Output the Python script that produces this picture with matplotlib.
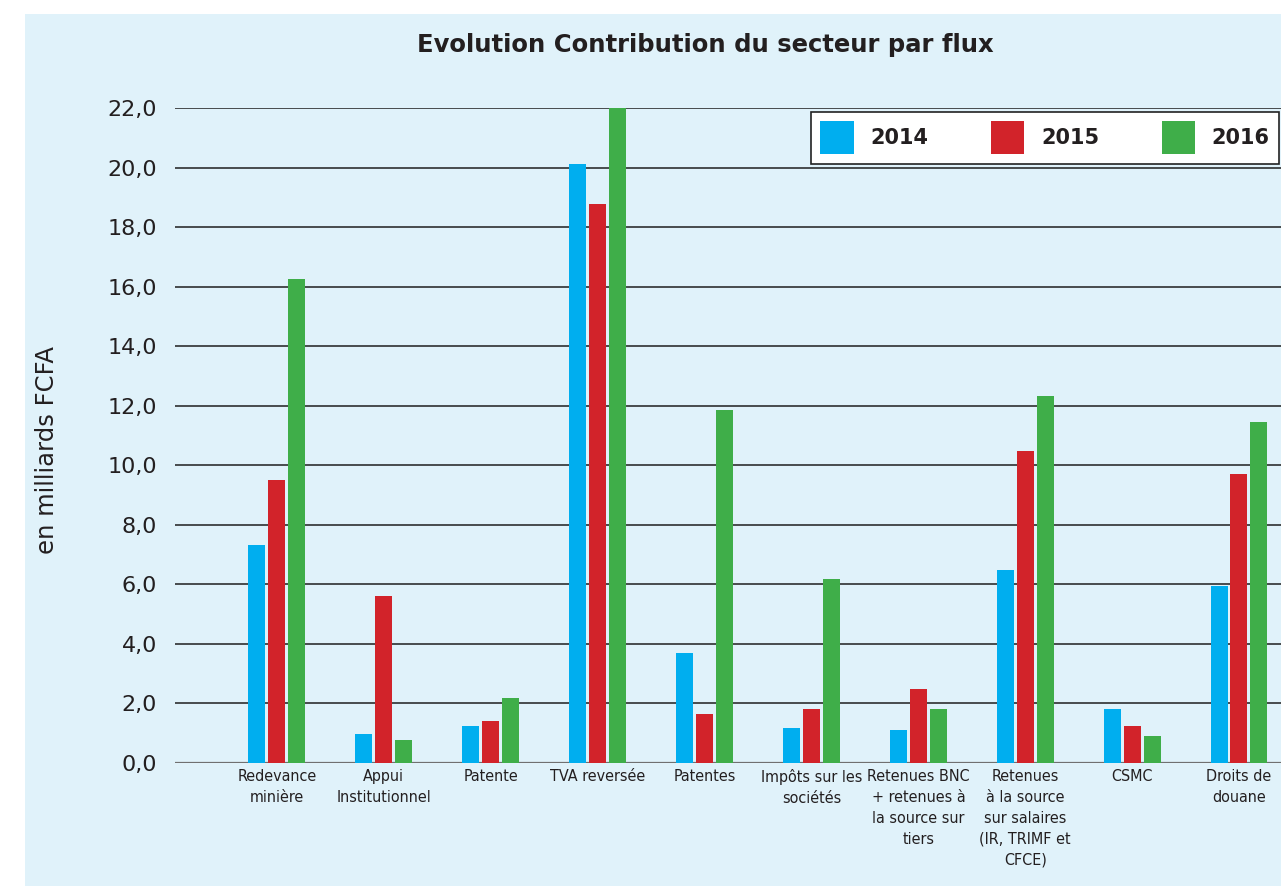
import matplotlib.pyplot as plt
import matplotlib.patches as mpatches
import numpy as np

categories = [
    "Redevance\nminière",
    "Appui\nInstitutionnel",
    "Patente",
    "TVA reversée",
    "Patentes",
    "Impôts sur les\nsociétés",
    "Retenues BNC\n+ retenues à\nla source sur\ntiers",
    "Retenues\nà la source\nsur salaires\n(IR, TRIMF et\nCFCE)",
    "CSMC",
    "Droits de\ndouane",
]
years = ["2014", "2015", "2016"]
values_2014 = [7.32, 0.97, 1.24, 20.12, 3.69, 1.18, 1.11, 6.48, 1.81, 5.95]
values_2015 = [9.51, 5.61, 1.41, 18.78, 1.65, 1.81, 2.49, 10.48, 1.24, 9.71]
values_2016 = [16.26, 0.77, 2.18, 22.0, 11.86, 6.18, 1.81, 12.33, 0.91, 11.45]
colors = ["#00aeef", "#d2232a", "#3fae49"]
yticks = np.arange(0, 23, 2)

fig = plt.figure(figsize=(12.81, 8.86), dpi=100)
bg = mpatches.Rectangle((25 / 1281, 0), 1, 1 - 14 / 886, transform=fig.transFigure,
                        facecolor="#e0f2fa", edgecolor="none", zorder=-10)
fig.add_artist(bg)

ax = fig.add_axes([175 / 1281, 1 - 763 / 886, 1 - 175 / 1281, (763 - 108) / 886])
ax.set_facecolor("none")

x = np.arange(len(categories))
step = 0.187
width = 0.159
for k, (vals, yr) in enumerate(zip([values_2014, values_2015, values_2016], years)):
    ax.bar(x + (k - 1) * step, vals, width, color=colors[k], label=yr, zorder=3)

ax.set_xlim(-0.954, 9.393)
ax.set_ylim(0, 22)
ax.set_yticks(yticks)
ax.set_yticklabels([f"{v:.1f}".replace(".", ",") for v in yticks], fontsize=16, color="#231f20")
ax.yaxis.grid(True, color="#1e1e1e", linewidth=1.1, zorder=0)
ax.set_axisbelow(True)
ax.axhline(0, color="#707070", linewidth=1.6, zorder=2)
for s in ax.spines.values():
    s.set_visible(False)
ax.tick_params(axis="y", length=0, pad=13)
ax.tick_params(axis="x", length=0, pad=4)
ax.set_xticks(x)
ax.set_xticklabels(categories, fontsize=11.5, color="#231f20", linespacing=1.5,
                   family="DejaVu Sans", fontstretch="condensed")

ax.set_ylabel("en milliards FCFA", fontsize=17.5, color="#231f20")
ax.yaxis.set_label_coords(-0.105, 0.478)

fig.text(705 / 1281, 1 - 45 / 886, "Evolution Contribution du secteur par flux",
         fontsize=17.5, fontweight="bold", ha="center", va="center", color="#231f20")

leg_w = (1279 - 811) / 1281
leg_h = (164 - 112) / 886
leg = ax.legend(loc="upper left", bbox_to_anchor=(811 / 1281, 1 - 164 / 886, leg_w, leg_h),
                bbox_transform=fig.transFigure, ncol=3, mode="expand",
                prop={"weight": "bold", "size": 15},
                handlelength=1.6, handleheight=2.05, handletextpad=0.8,
                borderaxespad=0, borderpad=0.45,
                fancybox=False, framealpha=1, edgecolor="#222222")
leg.get_frame().set_linewidth(1.2)
for t in leg.get_texts():
    t.set_color("#231f20")

fig.savefig("out.png", dpi=100)
